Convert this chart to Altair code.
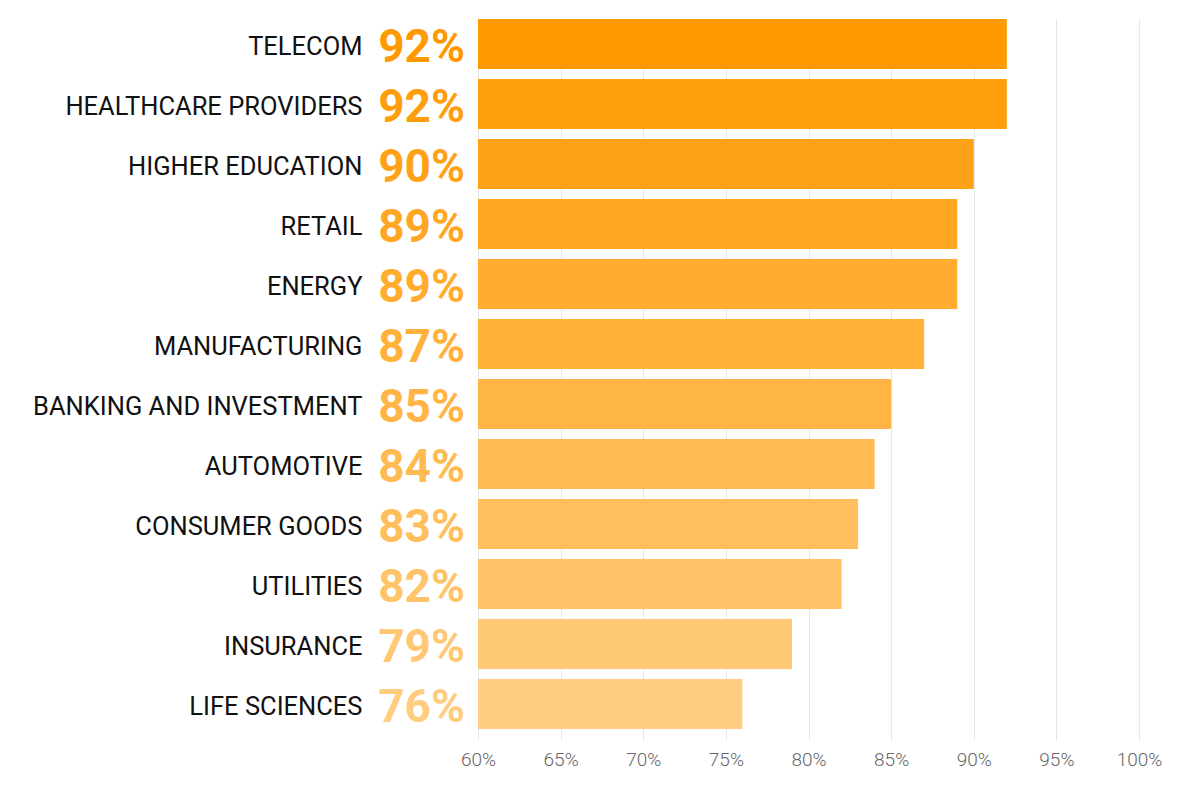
import altair as alt
import pandas as pd

categories = ["TELECOM", "HEALTHCARE PROVIDERS", "HIGHER EDUCATION", "RETAIL", "ENERGY",
              "MANUFACTURING", "BANKING AND INVESTMENT", "AUTOMOTIVE", "CONSUMER GOODS",
              "UTILITIES", "INSURANCE", "LIFE SCIENCES"]
values = [92, 92, 90, 89, 89, 87, 85, 84, 83, 82, 79, 76]
x_ticks = [60, 65, 70, 75, 80, 85, 90, 95, 100]

# colour ramp (style): dark orange at top to light orange at bottom
c0 = (255, 153, 0)
c1 = (255, 205, 128)
n = len(categories)
colors = []
for i in range(n):
    t = i / (n - 1)
    rgb = tuple(round(a + (b - a) * t) for a, b in zip(c0, c1))
    colors.append("#%02x%02x%02x" % rgb)

df = pd.DataFrame({"cat": categories, "val": values,
                   "label": [f"{v}%" for v in values]})

FONT = "Roboto"

y_enc = alt.Y("cat:N", sort=categories,
              scale=alt.Scale(paddingInner=0.1667, paddingOuter=0),
              axis=alt.Axis(title=None, ticks=False, domain=False,
                            labelPadding=116, labelFontSize=25.5, labelColor="#111111",
                            labelFont=FONT, labelLimit=450, labelOffset=3))
color_enc = alt.Color("cat:N", sort=categories,
                      scale=alt.Scale(domain=categories, range=colors), legend=None)

bars = alt.Chart(df).mark_bar(clip=True).encode(
    x=alt.X("val:Q", scale=alt.Scale(domain=[60, 100], nice=False, clamp=True),
            axis=alt.Axis(title=None, values=x_ticks, labelExpr="datum.value + '%'",
                          grid=True, gridColor="#e6e6e6", domain=False,
                          ticks=True, tickColor="#e6e6e6", tickSize=11,
                          labelFontSize=19, labelColor="#666666", labelFont=FONT,
                          labelPadding=10, labelFontWeight=300, labelFlush=False)),
    x2=alt.datum(60),
    y=y_enc,
    color=color_enc,
)

labels = alt.Chart(df).mark_text(align="right", baseline="middle", font=FONT,
                                 fontSize=46, fontWeight="bold", dy=4).encode(
    x=alt.value(-13),
    y=alt.Y("cat:N", sort=categories),
    text="label:N",
    color=color_enc,
)

chart = alt.layer(bars, labels).properties(
    width=661, height=710,
    autosize=alt.AutoSizeParams(type="none"),
    padding={"left": 470, "top": 11, "right": 45, "bottom": 40},
).configure_view(stroke=None)

chart.save("out.html", embed_options={"renderer": "svg", "actions": False})
